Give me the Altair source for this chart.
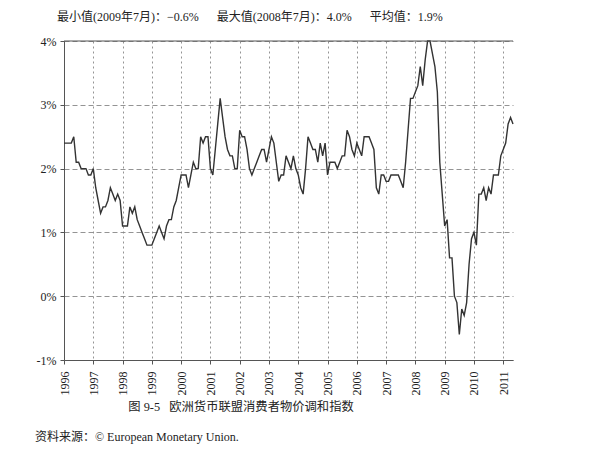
import altair as alt
import pandas as pd

# Euro area HICP, annual % change, monthly
hicp_1996 = [2.4, 2.4, 2.4, 2.4, 2.5, 2.1, 2.1, 2.0, 2.0, 2.0, 1.9, 1.9]
hicp_1997 = [2.0, 1.7, 1.5, 1.3, 1.4, 1.4, 1.5, 1.7, 1.6, 1.5, 1.6, 1.5]
hicp_1998 = [1.1, 1.1, 1.1, 1.4, 1.3, 1.4, 1.2, 1.1, 1.0, 0.9, 0.8, 0.8]
hicp_1999 = [0.8, 0.9, 1.0, 1.1, 1.0, 0.9, 1.1, 1.2, 1.2, 1.4, 1.5, 1.7]
hicp_2000 = [1.9, 1.9, 1.9, 1.7, 1.9, 2.1, 2.0, 2.0, 2.5, 2.4, 2.5, 2.5]
hicp_2001 = [2.0, 1.9, 2.3, 2.7, 3.1, 2.8, 2.5, 2.3, 2.2, 2.2, 2.0, 2.0]
hicp_2002 = [2.6, 2.5, 2.5, 2.3, 2.0, 1.9, 2.0, 2.1, 2.2, 2.3, 2.3, 2.1]
hicp_2003 = [2.3, 2.5, 2.4, 2.1, 1.8, 1.9, 1.9, 2.2, 2.1, 2.0, 2.2, 2.0]
hicp_2004 = [1.9, 1.7, 1.6, 2.0, 2.5, 2.4, 2.3, 2.3, 2.1, 2.4, 2.2, 2.4]
hicp_2005 = [1.9, 2.1, 2.1, 2.1, 2.0, 2.1, 2.2, 2.2, 2.6, 2.5, 2.3, 2.2]
hicp_2006 = [2.4, 2.3, 2.2, 2.5, 2.5, 2.5, 2.4, 2.3, 1.7, 1.6, 1.9, 1.9]
hicp_2007 = [1.8, 1.8, 1.9, 1.9, 1.9, 1.9, 1.8, 1.7, 2.1, 2.6, 3.1, 3.1]
hicp_2008 = [3.2, 3.3, 3.6, 3.3, 3.7, 4.0, 4.0, 3.8, 3.6, 3.2, 2.1, 1.6]
hicp_2009 = [1.1, 1.2, 0.6, 0.6, 0.0, -0.1, -0.6, -0.2, -0.3, -0.1, 0.5, 0.9]
hicp_2010 = [1.0, 0.8, 1.6, 1.6, 1.7, 1.5, 1.7, 1.6, 1.9, 1.9, 1.9, 2.2]
hicp_2011 = [2.3, 2.4, 2.7, 2.8, 2.7]

series = (hicp_1996 + hicp_1997 + hicp_1998 + hicp_1999 + hicp_2000 + hicp_2001
          + hicp_2002 + hicp_2003 + hicp_2004 + hicp_2005 + hicp_2006 + hicp_2007
          + hicp_2008 + hicp_2009 + hicp_2010 + hicp_2011)

year_ticks = list(range(1996, 2012))
pct_ticks = [-1, 0, 1, 2, 3, 4]

GAP = "\u2003\u00a0\u00a0"
title_text = "最小值(2009年7月)：−0.6%" + GAP + "最大值(2008年7月)：4.0%" + GAP + "平均值：1.9%"
caption_text = "图 9-5\u2002\u00a0欧洲货币联盟消费者物价调和指数"
source_text = "资料来源：© European Monetary Union."

FONT = "Liberation Serif, Noto Sans CJK SC, serif"

df = pd.DataFrame({
    "t": [1996 + i / 12 for i in range(len(series))],
    "v": series,
})

x_enc = alt.X(
    "t:Q",
    scale=alt.Scale(domain=[1996, 2011 + 4 / 12], nice=False, zero=False),
    axis=alt.Axis(
        values=year_ticks, format="d", labelAngle=-90, title=None,
        grid=True, gridDash=[2, 3], gridColor="#888", gridWidth=0.9,
        domainColor="#555", tickColor="#555", tickSize=4, labelPadding=7,
        labelFont=FONT, labelFontSize=12, labelColor="#222",
    ),
)
y_enc = alt.Y(
    "v:Q",
    scale=alt.Scale(domain=[-1, 4], nice=False, zero=False),
    axis=alt.Axis(
        values=pct_ticks, labelExpr="datum.value + '%'", title=None,
        grid=True, gridDash=[5, 3], gridColor="#888", gridWidth=0.9,
        domainColor="#555", tickColor="#555", tickSize=4, labelPadding=4,
        labelFont=FONT, labelFontSize=12, labelColor="#222",
    ),
)

line = alt.Chart(df).mark_line(color="#333333", strokeWidth=1.4).encode(x=x_enc, y=y_enc)

top_rule = alt.Chart(pd.DataFrame({"v": [4]})).mark_rule(
    color="#555", strokeWidth=1
).encode(y="v:Q")

caption = alt.Chart(pd.DataFrame({"s": [caption_text]})).mark_text(
    font=FONT, fontSize=12.3, color="#222", align="center", baseline="middle"
).encode(text="s:N", x=alt.value(177), y=alt.value(366))

source = alt.Chart(pd.DataFrame({"s": [source_text]})).mark_text(
    font=FONT, fontSize=12, color="#222", align="left", baseline="middle"
).encode(text="s:N", x=alt.value(-29), y=alt.value(396))

chart = alt.layer(line, top_rule, caption, source).properties(
    width=449,
    height=319,
    autosize=alt.AutoSizeParams(type="none"),
    padding={"left": 56, "top": 33, "right": 72, "bottom": 92},
    title=alt.TitleParams(
        text=title_text, anchor="start", frame="group", dx=-7, offset=11,
        font=FONT, fontSize=12, fontWeight="normal", color="#222",
    ),
).configure_view(stroke=None)

chart.save("out.html", embed_options={"renderer": "svg", "actions": False})
